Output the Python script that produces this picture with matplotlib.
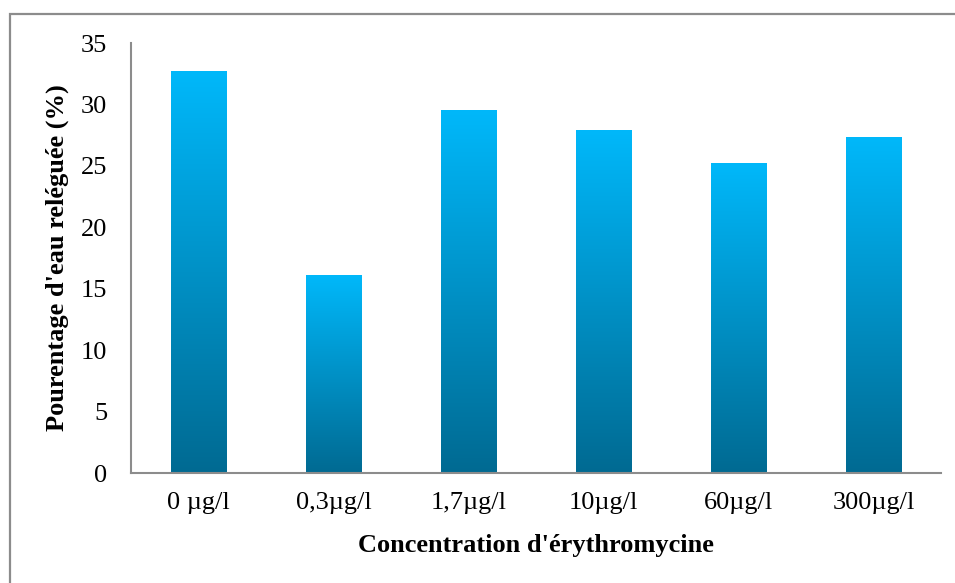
import numpy as np
import matplotlib
matplotlib.use("Agg")
import matplotlib.pyplot as plt
from matplotlib.colors import LinearSegmentedColormap
from matplotlib.patches import Rectangle

categories = ["0 µg/l", "0,3µg/l", "1,7µg/l", "10µg/l", "60µg/l", "300µg/l"]
values = [32.7, 16.1, 29.5, 27.9, 25.2, 27.3]
yticks = [0, 5, 10, 15, 20, 25, 30, 35]

plt.rcParams["font.family"] = ["Liberation Serif", "DejaVu Serif"]

fig = plt.figure(figsize=(9.55, 5.83), dpi=100)
ax = fig.add_axes([131 / 955, 110 / 583, 810 / 955, 430 / 583])

# vertical gradient: dark at the base, bright at the top of each bar
cmap = LinearSegmentedColormap.from_list("bar", ["#006a92", "#00b8fa"])
grad = np.linspace(0, 1, 256).reshape(-1, 1)
width = 0.41
x = np.arange(len(categories))
bars = ax.bar(x, values, width=width, color="none", edgecolor="none")
for b in bars:
    x0, w, h = b.get_x(), b.get_width(), b.get_height()
    ax.imshow(grad, cmap=cmap, origin="lower", aspect="auto",
              extent=(x0, x0 + w, 0, h), interpolation="bicubic", zorder=2)

ax.set_xlim(-0.5, len(categories) - 0.5)
ax.set_ylim(0, 35)
ax.set_yticks(yticks)
ax.set_xticks(x)
ax.set_xticklabels(categories)
ax.tick_params(axis="both", length=0, labelsize=19)
ax.tick_params(axis="y", pad=17)
ax.tick_params(axis="x", pad=14)

for s in ("top", "right"):
    ax.spines[s].set_visible(False)
for s in ("left", "bottom"):
    ax.spines[s].set_color("#8c8c8c")
    ax.spines[s].set_linewidth(1.5)

ax.set_xlabel("Concentration d'érythromycine", fontsize=19, fontweight="bold", labelpad=14)
ax.set_ylabel("Pourentage d'eau reléguée (%)", fontsize=19, fontweight="bold")
ax.yaxis.set_label_coords(-0.076, 0.5)

# outer frame of the chart area
fig.patches.append(Rectangle((9.5 / 955, -0.05), 1.1, (583 - 13.5) / 583 + 0.05,
                             transform=fig.transFigure, fill=False,
                             edgecolor="#8c8c8c", linewidth=1.6))

fig.savefig("out.png", dpi=100)
